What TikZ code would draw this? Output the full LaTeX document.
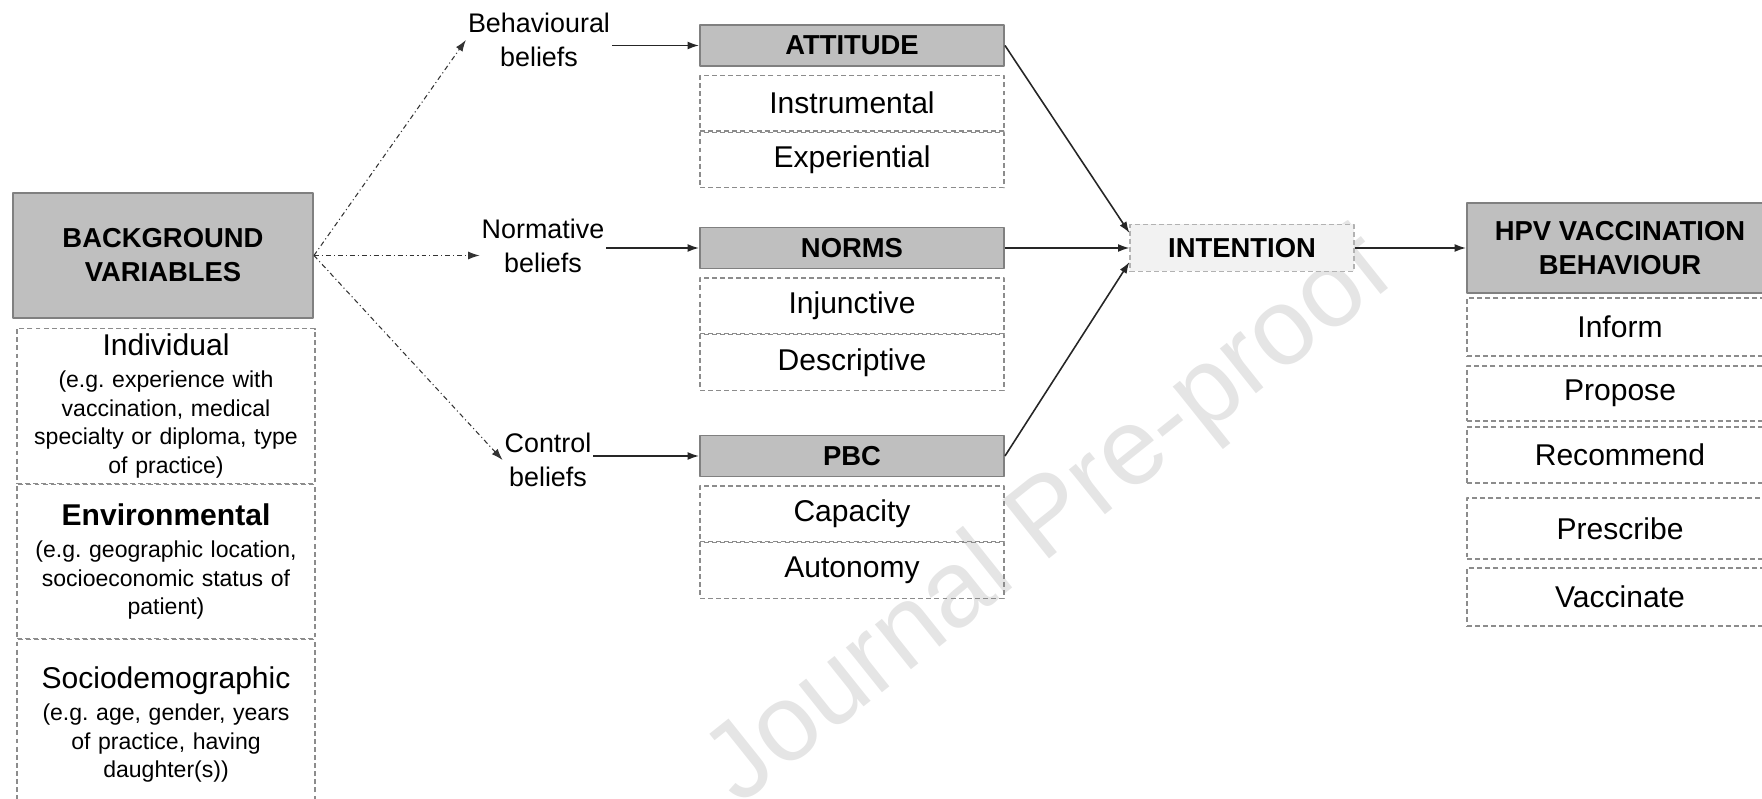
\documentclass[tikz,border=0pt]{standalone}
\usepackage{fontspec}
\setmainfont{Liberation Sans}
\frenchspacing
\usetikzlibrary{positioning,arrows.meta}
\begin{document}
\begin{tikzpicture}[font=\fontsize{15.6}{18.7}\selectfont, line join=round, >={Latex[length=6.5pt,width=4.5pt]},
		hdr/.style={draw=black!50, line width=1.1pt, fill=black!25, minimum width=6.08cm, minimum height=0.82cm, inner sep=1pt, align=center, font=\fontsize{15.6}{19.3}\selectfont\bfseries},
		subbox/.style={draw=black!45, dash pattern=on 2.8pt off 1.8pt, line width=0.6pt, minimum width=6.08cm, minimum height=1.11cm, inner sep=1pt, font=\fontsize{17.1}{20}\selectfont},
		catbox/.style={subbox, minimum width=5.96cm, text width=5.8cm, align=center, font=\fontsize{13.1}{16.2}\selectfont},
		blf/.style={align=center, inner sep=1pt, font=\fontsize{15.3}{19.3}\selectfont},
		dd/.style={->, black!80, line width=0.6pt, dash pattern=on 2.8pt off 1.7pt on 0.6pt off 1.7pt},
		arr/.style={->, black!85, line width=0.9pt}]
	\useasboundingbox (0,0) rectangle (35.24,15.96);
	\clip (0,0) rectangle (35.24,15.96);
	\node[rotate=38.6, text=black!10, font=\fontsize{62}{62}\selectfont] (wm) at (21.02,5.52) {Journal Pre-proof};
	% background variables
	\node[hdr, minimum width=6cm, minimum height=2.5cm] (bg) at (3.26,10.85) {BACKGROUND\\VARIABLES};
	\node[catbox, minimum height=3.1cm, anchor=north] (ind) at (3.32,9.4) {{\fontsize{17.1}{18}\selectfont Individual}\\[2pt] (e.g. experience with\\ vaccination, medical\\ specialty or diploma, type\\ of practice)};
	\node[catbox, minimum height=3.08cm, below=0pt of ind] (env) {{\fontsize{17.1}{18}\selectfont\bfseries Environmental}\\[2pt] (e.g. geographic location,\\ socioeconomic status of\\ patient)};
	\node[catbox, minimum height=3.4cm, below=0pt of env] (soc) {{\fontsize{17.1}{18}\selectfont Sociodemographic}\\[2pt] (e.g. age, gender, years\\ of practice, having\\ daughter(s))};
	% beliefs
	\node[blf] (beh) at (10.78,15.16) {Behavioural\\beliefs};
	\node[blf] (nor) at (10.86,11.04) {Normative\\beliefs};
	\node[blf] (con) at (10.96,6.76) {Control\\beliefs};
	% attitude, norms, pbc
	\node[hdr] (att) at (17.04,15.05) {ATTITUDE};
	\node[subbox, below=0.16cm of att] (ins) {Instrumental};
	\node[subbox, below=0pt of ins] (exp) {Experiential};
	\node[hdr] (nrm) at (17.04,11.0) {NORMS};
	\node[subbox, below=0.16cm of nrm] (inj) {Injunctive};
	\node[subbox, below=0pt of inj] (des) {Descriptive};
	\node[hdr] (pbc) at (17.04,6.84) {PBC};
	\node[subbox, below=0.16cm of pbc] (cap) {Capacity};
	\node[subbox, below=0pt of cap] (aut) {Autonomy};
	% intention, behaviour
	\node[hdr, fill=black!5, draw=black!30, dash pattern=on 2.8pt off 1.8pt, line width=0.6pt, minimum width=4.48cm, minimum height=0.94cm] (int) at (24.84,11.0) {INTENTION};
	\node[hdr, minimum width=6.12cm, minimum height=1.8cm] (hpv) at (32.4,11.0) {HPV VACCINATION\\BEHAVIOUR};
	\foreach \t/\y/\h in {Inform/9.42/1.16, Propose/8.09/1.1, Recommend/6.86/1.12, Prescribe/5.39/1.22, Vaccinate/4.02/1.16}{
		\node[subbox, minimum width=6.12cm, minimum height=\h cm] (\t) at (32.4,\y) {\t};}
	% connectors
	\draw[dd] (bg.east) -- (beh.west);
	\draw[dd] (bg.east) -- (nor.west |- bg.east);
	\draw[dd] (bg.east) -- (con.west);
	\draw[arr] (beh.east |- att.west) -- (att.west);
	\draw[arr] (nor.east |- nrm.west) -- (nrm.west);
	\draw[arr] (con.east |- pbc.west) -- (pbc.west);
	\draw[arr] (att.east) -- ([yshift=0.3cm]int.west);
	\draw[arr] (nrm.east) -- (int.west);
	\draw[arr] (pbc.east) -- ([yshift=-0.28cm]int.west);
	\draw[arr] (int.east) -- (hpv.west);
\end{tikzpicture}
\end{document}
